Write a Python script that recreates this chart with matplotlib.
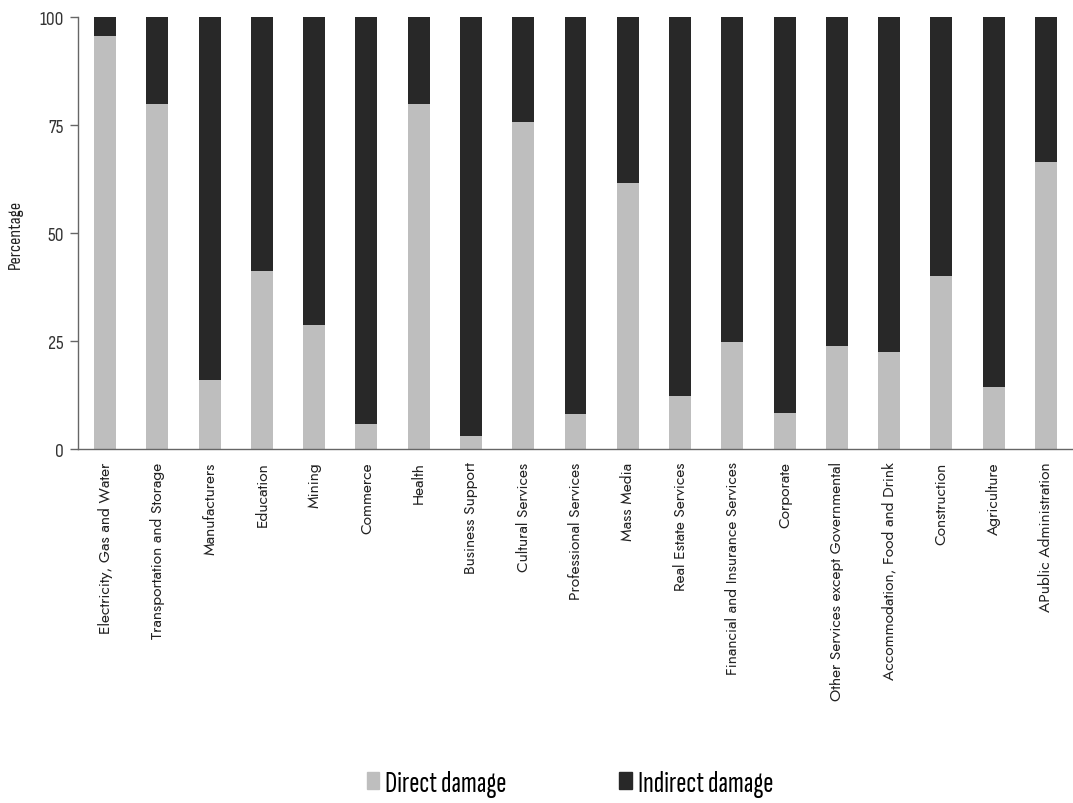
import matplotlib
matplotlib.use("Agg")
import matplotlib.pyplot as plt
import matplotlib.patches as mpatches
import numpy as np

# sectors and share of direct damage (%), indirect is the remainder
sectors = ['Electricity, Gas and Water', 'Transportation and Storage', 'Manufacturers',
           'Education', 'Mining', 'Commerce', 'Health', 'Business Support',
           'Cultural Services', 'Professional Services', 'Mass Media',
           'Real Estate Services', 'Financial and Insurance Services', 'Corporate',
           'Other Services except Governmental', 'Accommodation, Food and Drink',
           'Construction', 'Agriculture', 'APublic Administration']
direct = [95.5, 79.8, 16.0, 41.3, 28.8, 5.9, 79.8, 2.9, 75.6, 8.0, 61.6,
          12.2, 24.7, 8.4, 23.8, 22.4, 40.1, 14.4, 66.5]
indirect = [100 - d for d in direct]
yticks = [0, 25, 50, 75, 100]

light = '#bebebe'
dark = '#282828'
axis_col = '#666666'
cond = ['Sofia Sans Condensed', 'DejaVu Sans']
xcond = ['Sofia Sans Extra Condensed', 'DejaVu Sans']
label_font = ['Jost', 'DejaVu Sans']

fig = plt.figure(figsize=(10.73, 8.04), dpi=100)
ax = fig.add_axes([0.0727, 0.4403, 0.9273, 0.5373])

x = np.arange(len(sectors))
ax.bar(x, direct, width=0.42, color=light, label='Direct damage')
ax.bar(x, indirect, width=0.42, bottom=direct, color=dark, label='Indirect damage')

ax.set_xlim(-0.52, len(sectors) - 0.48)
ax.set_ylim(0, 100)
ax.set_yticks(yticks)
ax.set_yticklabels([str(t) for t in yticks], family=cond, fontsize=14, color='#333333')
ax.set_xticks(x)
ax.set_xticklabels(sectors, rotation=90, family=label_font, fontsize=11.2,
                   fontweight='light', color='#222222')
ax.tick_params(axis='x', length=0, pad=9)
ax.tick_params(axis='y', length=6, width=1, color=axis_col, pad=4)
ax.set_ylabel('Percentage', family=cond, fontsize=13, color='#222222', labelpad=12)

for s in ['top', 'right']:
    ax.spines[s].set_visible(False)
for s in ['left', 'bottom']:
    ax.spines[s].set_color(axis_col)
    ax.spines[s].set_linewidth(1)

handles = [mpatches.Patch(color=light, label='Direct damage'),
           mpatches.Patch(color=dark, label='Indirect damage')]
fig.legend(handles=handles, loc='center', bbox_to_anchor=(0.531, 1 - 785 / 804),
           ncol=2, frameon=False, prop={'family': xcond, 'size': 22},
           handlelength=0.4, handleheight=0.45, handletextpad=0.2, columnspacing=3.7)

fig.savefig('out.png', dpi=100)
